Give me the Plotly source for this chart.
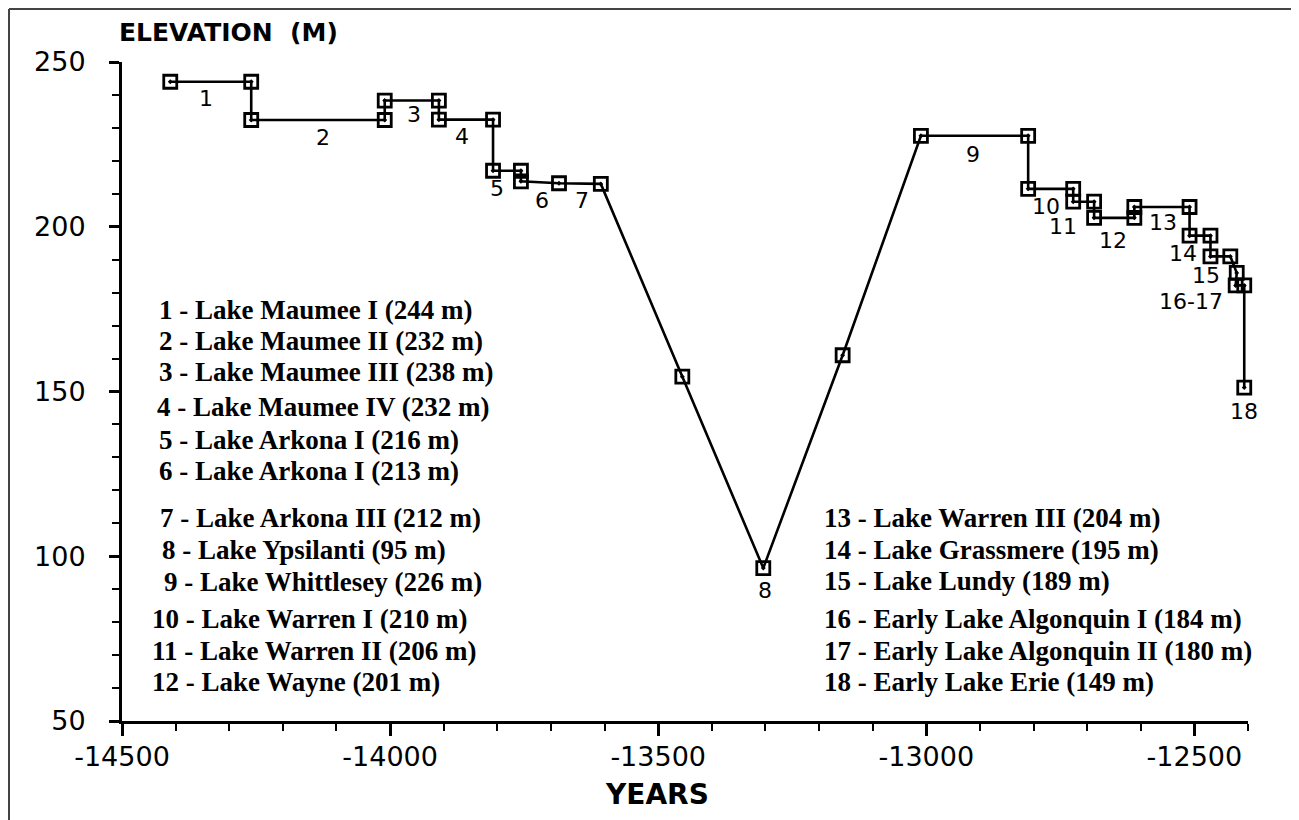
import plotly.graph_objects as go

# ---- data ----
years = [-14410, -14259, -14259, -14010, -14010, -13909, -13909, -13808, -13808,
         -13756, -13756, -13685, -13607, -13455, -13304, -13156, -13010, -12810,
         -12810, -12726, -12726, -12687, -12687, -12612, -12612, -12509, -12509,
         -12470, -12470, -12433, -12421, -12423, -12407, -12407]
elev = [244, 244, 232.4, 232.4, 238.3, 238.3, 232.5, 232.5, 217, 217, 213.8,
        213.2, 213, 154.5, 96.4, 161, 227.6, 227.6, 211.5, 211.5, 207.6, 207.6,
        202.7, 202.7, 206, 206, 197.3, 197.3, 191, 191, 186, 182.2, 182.2, 151.2]

stage_labels = ["1", "2", "3", "4", "5", "6", "7", "8", "9", "10", "11", "12",
                "13", "14", "15", "16-17", "18"]
label_x = [-14343, -14126, -13956, -13866, -13801, -13717, -13642, -13300, -12913,
           -12777, -12745, -12651, -12558, -12521, -12478, -12506, -12407]
label_y = [239, 227, 234, 227.3, 211.5, 208, 208, 89.7, 221.8, 206, 200, 195.8,
           201.2, 191.8, 185.2, 177.4, 144]

legend_left = ["1 - Lake Maumee I (244 m)", "2 - Lake Maumee II (232 m)",
               "3 - Lake Maumee III (238 m)", "4 - Lake Maumee IV (232 m)",
               "5 - Lake Arkona I (216 m)", "6 - Lake Arkona I (213 m)",
               "7 - Lake Arkona III (212 m)", "8 - Lake Ypsilanti (95 m)",
               "9 - Lake Whittlesey (226 m)", "10 - Lake Warren I (210 m)",
               "11 - Lake Warren II (206 m)", "12 - Lake Wayne (201 m)"]
legend_right = ["13 - Lake Warren III (204 m)", "14 - Lake Grassmere (195 m)",
                "15 - Lake Lundy (189 m)", "16 - Early Lake Algonquin I (184 m)",
                "17 - Early Lake Algonquin II (180 m)", "18 - Early Lake Erie (149 m)"]

# ---- layout positions (page pixels of the 1299x820 reference) ----
OFF = 8                      # default page body margin
W, H = 1299 - OFF, 820 - OFF
L, R, T, B = 122, 1248, 62, 721
left_rows_y = [310, 341, 372, 407, 440, 471, 518, 550, 582, 619, 651, 682]
left_rows_x = [157, 157, 157, 155, 157, 157, 158, 160, 162, 150, 150, 150]
right_rows_y = [518, 550, 581, 619, 651, 682]
right_rows_x = [822] * 6


def px_to_paper(px, py):
    return (px - L) / (R - L), (B - py) / (B - T)


fig = go.Figure()
fig.add_trace(go.Scatter(
    x=years, y=elev, mode="lines+markers", cliponaxis=False,
    line=dict(color="black", width=2.6),
    marker=dict(symbol="square-open-dot", size=13, color="black",
                line=dict(color="black", width=2.8)),
    hoverinfo="skip", showlegend=False))

annotations = []
for t, x, y in zip(stage_labels, label_x, label_y):
    annotations.append(dict(x=x, y=y, xref="x", yref="y", text=t, showarrow=False,
                            font=dict(family="DejaVu Sans", size=22, color="black")))

for rows_t, rows_x, rows_y in ((legend_left, left_rows_x, left_rows_y),
                               (legend_right, right_rows_x, right_rows_y)):
    for t, px, py in zip(rows_t, rows_x, rows_y):
        ax, ay = px_to_paper(px, py)
        annotations.append(dict(x=ax, y=ay, xref="paper", yref="paper", text=t,
                                showarrow=False, xanchor="left", yanchor="middle",
                                font=dict(family="Liberation Serif, Times New Roman",
                                          size=27, color="black", weight="bold")))

tx, ty = px_to_paper(117, 32)
annotations.append(dict(x=tx, y=ty, xref="paper", yref="paper", text="<b>ELEVATION  (M)</b>",
                        showarrow=False, xanchor="left", yanchor="middle",
                        font=dict(family="DejaVu Sans", size=25, color="black")))
yx, yy = px_to_paper(657, 794)
annotations.append(dict(x=yx, y=yy, xref="paper", yref="paper", text="<b>YEARS</b>",
                        showarrow=False, xanchor="center", yanchor="middle",
                        font=dict(family="DejaVu Sans", size=28, color="black")))

# frame lines of the scanned figure (top and left edges)
fx0, fy0 = px_to_paper(OFF + 1, OFF + 1)
fx1, fy1 = px_to_paper(OFF + W, OFF + H)
shapes = [
    dict(type="line", xref="paper", yref="paper", x0=fx0, y0=fy0, x1=fx1, y1=fy0,
         line=dict(color="#444444", width=2)),
    dict(type="line", xref="paper", yref="paper", x0=fx0, y0=fy0, x1=fx0, y1=fy1,
         line=dict(color="#444444", width=2)),
]

fig.update_layout(
    width=W, height=H,
    margin=dict(l=L - OFF, r=W - (R - OFF), t=T - OFF, b=H - (B - OFF), pad=0),
    paper_bgcolor="white", plot_bgcolor="white",
    annotations=annotations, shapes=shapes,
    xaxis=dict(range=[-14500, -12400], tickvals=[-14500, -14000, -13500, -13000, -12500],
               ticktext=["-14500", "-14000", "-13500", "-13000", "-12500"],
               showgrid=False, zeroline=False, showline=True, linecolor="black", linewidth=3,
               ticks="outside", ticklen=12, tickwidth=2.5, tickcolor="black",
               ticklabelstandoff=-2,
               minor=dict(dtick=100, tick0=-14500, ticks="outside", ticklen=7,
                          tickwidth=2, tickcolor="black"),
               tickfont=dict(family="DejaVu Sans", size=27, color="black")),
    yaxis=dict(range=[50, 250], tickvals=[50, 100, 150, 200, 250],
               showgrid=False, zeroline=False, showline=True, linecolor="black", linewidth=3,
               ticks="outside", ticklen=10, tickwidth=2.5, tickcolor="black",
               ticklabelstandoff=18,
               minor=dict(dtick=10, tick0=50, ticks="outside", ticklen=7,
                          tickwidth=2, tickcolor="black"),
               tickfont=dict(family="DejaVu Sans", size=27, color="black")),
)

fig.write_html("out.html")
